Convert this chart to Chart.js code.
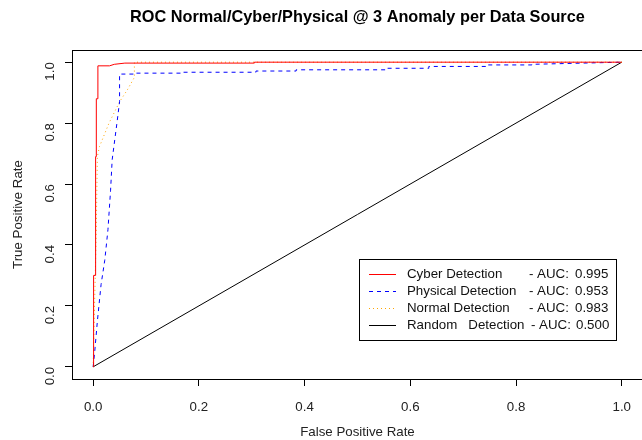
<!DOCTYPE html>
<html>
<head>
<meta charset="utf-8">
<script src="https://cdn.jsdelivr.net/npm/chart.js@4/dist/chart.umd.min.js"></script>
<style>
html,body{margin:0;padding:0;background:#fff;overflow:hidden;width:642px;height:440px;}
canvas{display:block;}
</style>
</head>
<body>
<canvas id="c" width="644" height="440"></canvas>
<script>
const titleText = "ROC Normal/Cyber/Physical @ 3 Anomaly per Data Source";
const xTitle = "False Positive Rate";
const yTitle = "True Positive Rate";
const tickValues = [0, 0.2, 0.4, 0.6, 0.8, 1.0];

const cyberFpr = [0, 0, 0.0013, 0.0013, 0.004, 0.004, 0.005, 0.005, 0.006, 0.006, 0.009, 0.009, 0.031, 0.04, 0.06, 0.305, 0.305, 1];
const cyberTpr = [0, 0.11, 0.11, 0.30, 0.30, 0.50, 0.50, 0.69, 0.69, 0.88, 0.88, 0.988, 0.988, 0.993, 0.997, 0.997, 1, 1];

const physFpr = [0, 0.003, 0.008, 0.015, 0.022, 0.028, 0.033, 0.036, 0.045, 0.05, 0.05, 0.081, 0.081, 0.169, 0.169, 0.308, 0.308, 0.384, 0.384, 0.554, 0.554, 0.635, 0.635, 0.743, 0.743, 0.83, 0.83, 1];
const physTpr = [0, 0.05, 0.15, 0.27, 0.35, 0.45, 0.58, 0.68, 0.80, 0.87, 0.961, 0.961, 0.964, 0.964, 0.967, 0.967, 0.971, 0.971, 0.975, 0.975, 0.980, 0.980, 0.986, 0.986, 0.991, 0.991, 0.993, 1];

const normFpr = [0, 0.002, 0.004, 0.006, 0.007, 0.008, 0.012, 0.03, 0.05, 0.065, 0.078, 0.078, 1];
const normTpr = [0, 0.15, 0.30, 0.45, 0.58, 0.69, 0.723, 0.80, 0.87, 0.91, 0.95, 1.0, 1];

const randFpr = [0, 1];
const randTpr = [0, 1];

const seriesNames = ["Cyber Detection", "Physical Detection", "Normal Detection", "Random   Detection"];
const aucValues = ["0.995", "0.953", "0.983", "0.500"];

function pts(xs, ys){ return xs.map((x,i)=>({x:x, y:ys[i]})); }

const FONT = "'Liberation Sans', Arial, sans-serif";

const framePlugin = {
  id: 'frame',
  afterDraw(chart){
    const ctx = chart.ctx, a = chart.chartArea;
    ctx.save();
    ctx.strokeStyle = '#000';
    ctx.lineWidth = 1;
    ctx.strokeRect(Math.round(a.left)+0.5, Math.round(a.top)+0.5, Math.round(a.right-a.left), Math.round(a.bottom-a.top));
    // title
    ctx.fillStyle = '#000';
    ctx.font = "bold 16.3px " + FONT;
    ctx.textAlign = 'center';
    ctx.textBaseline = 'middle';
    ctx.fillText(titleText, (a.left + a.right)/2, 18);
    // legend
    const lx = 359, ly = 259, lw = 257, lh = 81;
    ctx.fillStyle = '#fff';
    ctx.fillRect(lx+0.5, ly+0.5, lw, lh);
    ctx.strokeRect(lx+0.5, ly+0.5, lw, lh);
    const rows = [274, 291, 308, 325];
    chart.data.datasets.forEach((ds, i) => {
      const y = rows[i] + 0.5;
      ctx.save();
      ctx.strokeStyle = ds.borderColor;
      ctx.lineWidth = 1;
      ctx.setLineDash(ds.borderDash || []);
      ctx.beginPath();
      ctx.moveTo(369, y); ctx.lineTo(396, y);
      ctx.stroke();
      ctx.restore();
      ctx.fillStyle = '#111';
      ctx.font = "13.3px " + FONT;
      ctx.textAlign = 'left';
      ctx.textBaseline = 'middle';
      ctx.fillText(seriesNames[i], 407, rows[i]);
      ctx.fillText("- AUC:", i === 3 ? 531 : 529, rows[i]);
      ctx.fillText(aucValues[i], i === 3 ? 576 : 575, rows[i]);
    });
    ctx.restore();
  }
};

const tickFont = {family: FONT, size: 13.3};

new Chart(document.getElementById('c'), {
  type: 'scatter',
  data: {
    datasets: [
      {label: seriesNames[0], data: pts(cyberFpr, cyberTpr), borderColor: '#ff0000', borderWidth: 1, showLine: true, pointRadius: 0, tension: 0},
      {label: seriesNames[1], data: pts(physFpr, physTpr), borderColor: '#0000ff', borderWidth: 1, borderDash: [4,4], showLine: true, pointRadius: 0, tension: 0},
      {label: seriesNames[2], data: pts(normFpr, normTpr), borderColor: '#ffa500', borderWidth: 1, borderDash: [1,3], showLine: true, pointRadius: 0, tension: 0},
      {label: seriesNames[3], data: pts(randFpr, randTpr), borderColor: '#000000', borderWidth: 1, showLine: true, pointRadius: 0, tension: 0}
    ]
  },
  options: {
    responsive: false,
    animation: false,
    layout: {padding: {top: 50, right: 0, bottom: 0, left: 0}},
    plugins: {legend: {display: false}, title: {display: false}, tooltip: {enabled: false}},
    scales: {
      x: {
        type: 'linear', min: -0.04, max: 1.04,
        afterBuildTicks(s){ s.ticks = tickValues.map(v=>({value:v})); },
        afterFit(s){ s.height = 61; },
        border: {display: false},
        grid: {drawOnChartArea: false, drawTicks: true, tickLength: 7, color: '#000', tickColor: '#000'},
        ticks: {font: tickFont, color: '#222', padding: 13, maxRotation: 0, callback: v => Number(v).toFixed(1)},
        title: {display: true, text: xTitle, font: tickFont, color: '#222', padding: {top: 0, bottom: 0}}
      },
      y: {
        type: 'linear', min: -0.04, max: 1.04,
        afterBuildTicks(s){ s.ticks = tickValues.map(v=>({value:v})); },
        afterFit(s){ s.width = 72; },
        border: {display: false},
        grid: {drawOnChartArea: false, drawTicks: true, tickLength: 7, color: '#000', tickColor: '#000'},
        ticks: {font: tickFont, color: '#222', padding: 15, minRotation: 90, maxRotation: 90, callback: v => Number(v).toFixed(1)},
        title: {display: true, text: yTitle, font: tickFont, color: '#222', padding: {top: 10, bottom: 0}}
      }
    }
  },
  plugins: [framePlugin]
});
</script>
</body>
</html>
